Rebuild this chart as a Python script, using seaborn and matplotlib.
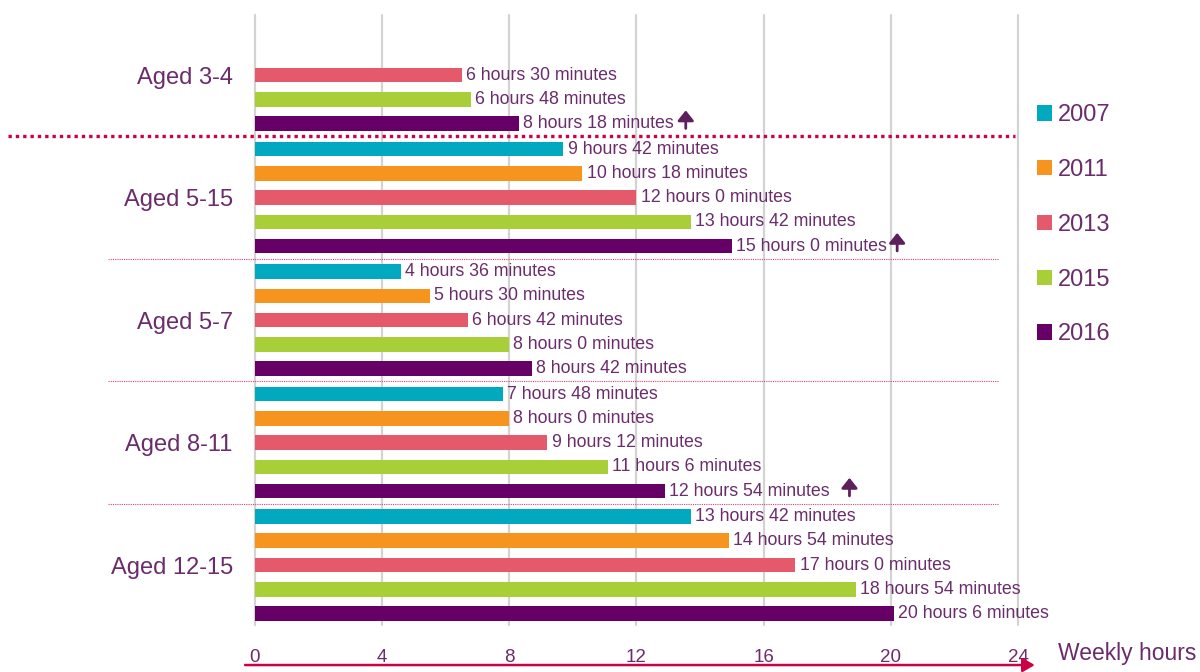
import matplotlib
matplotlib.use("Agg")
import matplotlib.pyplot as plt
import seaborn as sns
import pandas as pd
import numpy as np
from matplotlib.transforms import ScaledTranslation, blended_transform_factory

# ---------------- data ----------------
groups = ["Aged 3-4", "Aged 5-15", "Aged 5-7", "Aged 8-11", "Aged 12-15"]
years = ["2007", "2011", "2013", "2015", "2016"]
# weekly minutes per group (NaN = not measured)
minutes_2007 = [np.nan, 582, 276, 468, 822]
minutes_2011 = [np.nan, 618, 330, 480, 894]
minutes_2013 = [390, 720, 402, 552, 1020]
minutes_2015 = [408, 822, 480, 666, 1134]
minutes_2016 = [498, 900, 522, 774, 1206]
colors = ["#00A9BF", "#F7941D", "#E55A6A", "#A8CF38", "#660066"]
x_ticks = [0, 4, 8, 12, 16, 20, 24]
# rising-trend arrows on the 2016 bars: (group, x position in hours)
arrow_marks = [("Aged 3-4", 13.55), ("Aged 5-15", 20.2), ("Aged 8-11", 18.7)]

series = [minutes_2007, minutes_2011, minutes_2013, minutes_2015, minutes_2016]
rows = []
for yr, vals in zip(years, series):
    for g, v in zip(groups, vals):
        rows.append({"group": g, "year": yr, "hours": v / 60.0})
df = pd.DataFrame(rows)

PURPLE = "#6B2C6B"
CRIMSON = "#CC0044"

sns.set_style("white")
plt.rcParams["font.family"] = ["Liberation Sans", "DejaVu Sans"]

fig = plt.figure(figsize=(12, 6.72), dpi=100)
ax = fig.add_axes([0.2125, 0.0699, 0.6358, 0.9077])

sns.barplot(data=df, y="group", x="hours", hue="year", order=groups,
            hue_order=years, palette=colors, orient="h", width=0.99,
            gap=0.4, saturation=1, errorbar=None, linewidth=0, ax=ax)

handles, labels = ax.get_legend_handles_labels()
if ax.get_legend() is not None:
    ax.get_legend().remove()

# value labels
for cont in ax.containers:
    labs = []
    for v in cont.datavalues:
        if np.isnan(v):
            labs.append("")
        else:
            m = int(round(v * 60))
            labs.append(f"{m // 60} hours {m % 60} minutes")
    ax.bar_label(cont, labels=labs, padding=3, color=PURPLE, fontsize=12.8)

# arrows
cont16 = ax.containers[years.index("2016")]
up = ax.transData + ScaledTranslation(0, 9.5 / 72, fig.dpi_scale_trans)
down = ax.transData + ScaledTranslation(0, -3.5 / 72, fig.dpi_scale_trans)
for g, xh in arrow_marks:
    gi = groups.index(g)
    p = [pp for pp in cont16.patches
         if int(round(pp.get_y() + pp.get_height() / 2)) == gi][0]
    yc = p.get_y() + p.get_height() / 2
    ax.annotate("", xy=(xh, yc), xycoords=up, xytext=(xh, yc), textcoords=down,
                arrowprops=dict(arrowstyle="-|>,head_length=0.5,head_width=0.4",
                                color="#5E1F5E", lw=2, mutation_scale=12,
                                shrinkA=0, shrinkB=0),
                annotation_clip=False)

# axes styling
ax.set_xlim(0, 24)
ax.set_ylim(4.49, -0.49)
ax.set_xticks(x_ticks)
ax.set_xticklabels([str(t) for t in x_ticks])
ax.xaxis.grid(True, color="#D3D3D3", lw=1.6)
for gl in ax.get_xgridlines():
    gl.set_clip_on(False)
ax.set_axisbelow(True)
for s in ax.spines.values():
    s.set_visible(False)
ax.tick_params(axis="x", length=0, pad=17, labelsize=13.5, labelcolor=PURPLE)
ax.tick_params(axis="y", length=0, pad=16, labelsize=17, labelcolor=PURPLE)
ax.set_xlabel("")
ax.set_ylabel("")

# separators
trans = blended_transform_factory(ax.transAxes, ax.transData)
ax.plot([-0.324, 0.996], [0.5, 0.5], transform=trans, clip_on=False,
        color=CRIMSON, lw=2.4, linestyle=(0, (1, 1.2)))
for yb in [1.5, 2.5, 3.5]:
    ax.plot([-0.193, 0.974], [yb, yb], transform=trans, clip_on=False,
            color="#E0407A", lw=0.8, linestyle=(0, (1, 1)))

# bottom axis arrow and label
ax.annotate("", xy=(1.022, -0.0656), xytext=(-0.013, -0.0656),
            xycoords="axes fraction", textcoords="axes fraction",
            arrowprops=dict(arrowstyle="-|>,head_length=0.6,head_width=0.35",
                            color=CRIMSON, lw=1.8, mutation_scale=12,
                            shrinkA=0, shrinkB=0),
            annotation_clip=False)
ax.text(1.052, -0.047, "Weekly hours", transform=ax.transAxes, ha="left",
        va="center", fontsize=16.5, color=PURPLE)

# legend
fig.legend(handles, labels, loc="upper left", bbox_to_anchor=(0.864, 0.845),
           frameon=False, fontsize=17, labelcolor=PURPLE, handlelength=0.64,
           handleheight=0.64, handletextpad=0.25, labelspacing=1.39,
           borderpad=0, borderaxespad=0)

fig.savefig("out.png", dpi=100)
